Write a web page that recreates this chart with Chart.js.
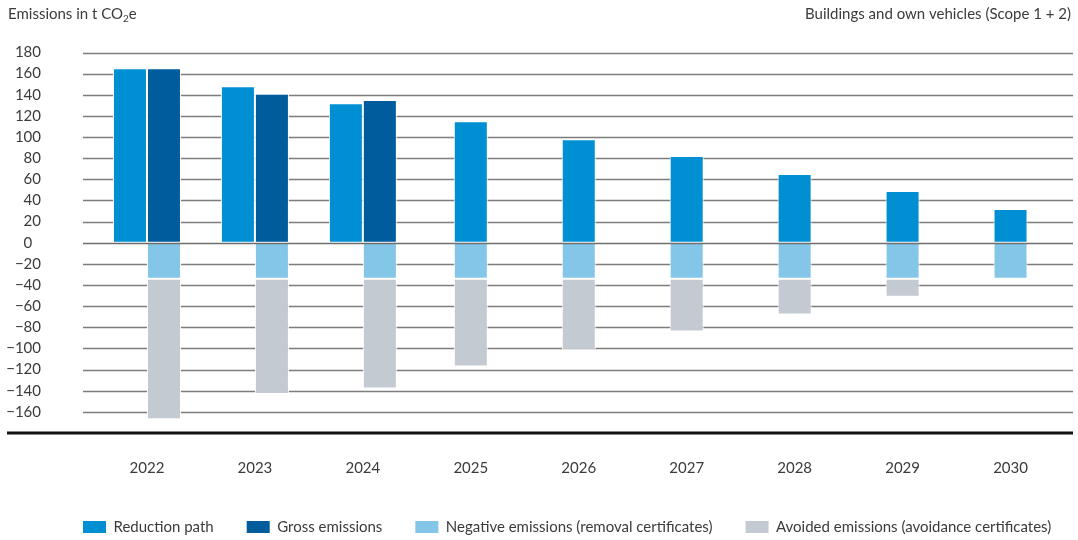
<!DOCTYPE html>
<html>
<head>
<meta charset="utf-8">
<script src="https://cdn.jsdelivr.net/npm/chart.js@4.4.1/dist/chart.umd.min.js"></script>
<style>
  html, body { margin: 0; padding: 0; background: #fff; }
  #wrap { position: relative; width: 1078px; height: 540px; }
</style>
</head>
<body>
<div id="wrap"><canvas id="emissions_scope12"></canvas></div>
<script>
// values (t CO2e)
const years = ['2022', '2023', '2024', '2025', '2026', '2027', '2028', '2029', '2030'];
const reductionPath = [165, 148, 132, 115, 98, 82, 65, 49, 32];
const grossEmissions = [165, 141, 135, null, null, null, null, null, null];
const negativeEmissions = [-34, -34, -34, -34, -34, -34, -34, -34, -34];
const avoidedEmissions = [-133, -109, -104, -83, -67, -50, -34, -17, 0];
const yMin = -180;
const yMax = 180;
const yStep = 20;

const leftTitle = 'Emissions in t CO';
const rightTitle = 'Buildings and own vehicles (Scope 1 + 2)';
const labels = ['Reduction path', 'Gross emissions', 'Negative emissions (removal certificates)', 'Avoided emissions (avoidance certificates)'];

const textColor = '#3b3b3b';
const fontFamily = 'Lato, "Open Sans", sans-serif';

// years with a gross bar put the certificates under the gross bar, the others under the path bar
const hasGross = grossEmissions.map(v => v !== null);
const underGross = arr => arr.map((v, i) => (hasGross[i] && v !== 0) ? v : null);
const underPath = arr => arr.map((v, i) => (!hasGross[i] && v !== 0) ? v : null);

const barStyle = {
  barThickness: 34,
  borderWidth: 1,
  borderColor: '#ffffff',
  borderSkipped: false,
  inflateAmount: 0,
  skipNull: true
};

const refGrid = {
  id: 'refGrid',
  beforeDatasetsDraw(chart) {
    const {ctx, chartArea, scales} = chart;
    const y = scales.y;
    ctx.save();
    ctx.strokeStyle = '#7d7d7d';
    ctx.lineWidth = 1.3;
    y.ticks.forEach(t => {
      if (t.value === yMin || t.value === 0) return;
      const py = Math.round(y.getPixelForValue(t.value)) + 0.5;
      ctx.beginPath();
      ctx.moveTo(chartArea.left - 10, py);
      ctx.lineTo(chartArea.right + 8.5, py);
      ctx.stroke();
    });
    ctx.restore();
  },
  afterDatasetsDraw(chart) {
    const {ctx, chartArea, scales} = chart;
    const y = scales.y;
    ctx.save();
    // zero line sits on top of the bars
    ctx.strokeStyle = '#6e6e6e';
    ctx.lineWidth = 1.3;
    let py = Math.round(y.getPixelForValue(0)) + 0.5;
    ctx.beginPath();
    ctx.moveTo(chartArea.left - 10, py);
    ctx.lineTo(chartArea.right + 8.5, py);
    ctx.stroke();
    // heavy base line
    ctx.strokeStyle = '#111111';
    ctx.lineWidth = 3;
    py = y.getPixelForValue(yMin);
    ctx.beginPath();
    ctx.moveTo(7, py);
    ctx.lineTo(chartArea.right + 8.5, py);
    ctx.stroke();
    ctx.restore();
  },
  afterDraw(chart) {
    const ctx = chart.ctx;
    ctx.save();
    ctx.fillStyle = textColor;
    ctx.textBaseline = 'alphabetic';
    ctx.font = '15px ' + fontFamily;
    ctx.textAlign = 'left';
    let x = 8;
    ctx.fillText(leftTitle, x, 19);
    x += ctx.measureText(leftTitle).width;
    ctx.font = '10px ' + fontFamily;
    ctx.fillText('2', x, 22);
    x += ctx.measureText('2').width;
    ctx.font = '15px ' + fontFamily;
    ctx.fillText('e', x, 19);
    ctx.textAlign = 'right';
    ctx.fillText(rightTitle, chart.width - 7, 19);
    ctx.restore();
  }
};

// put the legend where the reference has it
const legendPlace = {
  id: 'legendPlace',
  afterLayout(chart) {
    const lg = chart.legend;
    const p = lg.options.labels.padding;
    const h = lg.height;
    lg.left = chart.chartArea.left - 10 - p;
    lg.right = chart.width + 300;
    lg.top = chart.height - 13 - 7.5 - p;
    lg.bottom = lg.top + h;
  }
};

const ctx1 = document.getElementById('emissions_scope12');

new Chart(ctx1, {
  type: 'bar',
  data: {
    labels: years,
    datasets: [
      Object.assign({ label: labels[0], data: reductionPath, backgroundColor: '#008fd3', stack: 'path' }, barStyle),
      Object.assign({ label: labels[1], data: grossEmissions, backgroundColor: '#005c9c', stack: 'gross' }, barStyle),
      Object.assign({ label: labels[2], data: underGross(negativeEmissions), backgroundColor: '#84c6e8', stack: 'gross' }, barStyle),
      Object.assign({ label: labels[3], data: underGross(avoidedEmissions), backgroundColor: '#c3cad1', stack: 'gross' }, barStyle),
      Object.assign({ label: labels[2], data: underPath(negativeEmissions), backgroundColor: '#84c6e8', stack: 'path' }, barStyle),
      Object.assign({ label: labels[3], data: underPath(avoidedEmissions), backgroundColor: '#c3cad1', stack: 'path' }, barStyle)
    ]
  },
  options: {
    responsive: true,
    maintainAspectRatio: false,
    animation: false,
    layout: {
      padding: { left: 7, right: 13.5, top: 52.5, bottom: -21 }
    },
    scales: {
      x: {
        stacked: true,
        grid: { display: false, drawTicks: false },
        border: { display: false },
        ticks: { color: textColor, padding: 26, font: { family: fontFamily, size: 15 } }
      },
      y: {
        stacked: true,
        min: yMin,
        max: yMax,
        grid: { display: false, drawTicks: false },
        border: { display: false },
        afterFit: (scale) => {
          scale.width = 86;
          // the big label padding should not push the plot down
          scale.paddingTop = 0;
          scale.paddingBottom = 0;
        },
        ticks: {
          stepSize: yStep,
          autoSkip: false,
          padding: 52,
          color: textColor,
          font: { family: fontFamily, size: 15 },
          callback: (v) => {
            if (v === yMin) return '';
            if (v === 0) return '0\u2007';
            return String(v).replace('-', '\u2212');
          }
        }
      }
    },
    plugins: {
      tooltip: { enabled: false },
      legend: {
        position: 'bottom',
        align: 'start',
        labels: {
          boxWidth: 23,
          boxHeight: 12,
          padding: 33,
          color: textColor,
          font: { family: fontFamily, size: 15 },
          generateLabels: (chart) => {
            const seen = [];
            return Chart.defaults.plugins.legend.labels.generateLabels(chart)
              .filter(item => {
                if (seen.indexOf(item.text) !== -1) return false;
                seen.push(item.text);
                return true;
              })
              .map(item => Object.assign(item, { lineWidth: 0, strokeStyle: 'rgba(0,0,0,0)' }));
          }
        }
      }
    }
  },
  plugins: [refGrid, legendPlace]
});
</script>
</body>
</html>
